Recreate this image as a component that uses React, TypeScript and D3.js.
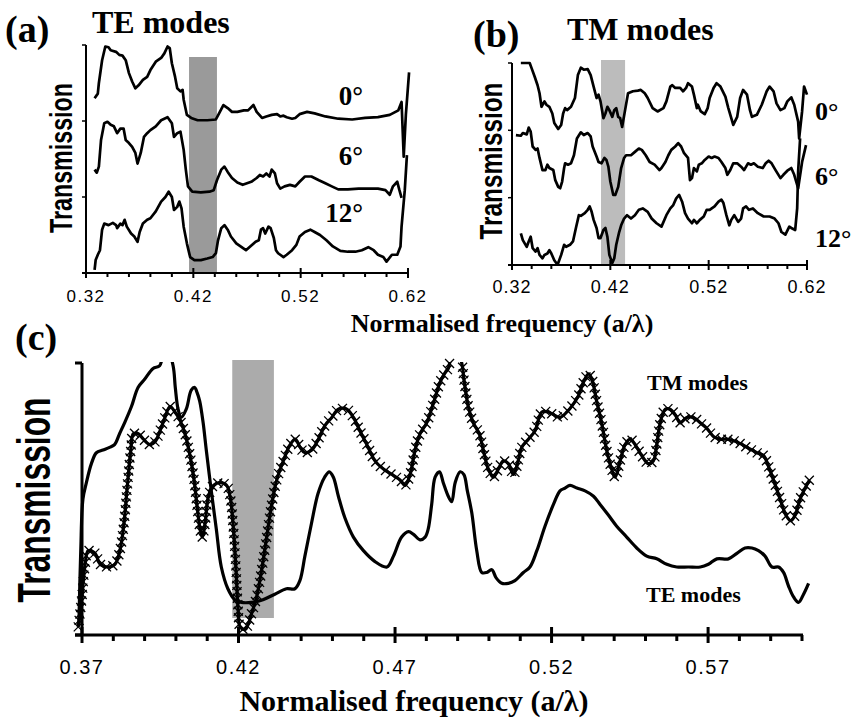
import React, { useEffect, useRef } from "react";
import * as d3 from "d3";

type Pt = [number, number];

// panel (a): TE modes, curves stacked 0° / 6° / 12° (frequency, transmission in offset units)
const teA0: Pt[] = [
  [0.328, 2.3], [0.331, 2.36], [0.332, 2.5], [0.335, 2.8], [0.338, 2.98], [0.341, 2.97], [0.343, 2.93],
  [0.348, 2.91], [0.351, 2.87], [0.354, 2.86], [0.357, 2.8], [0.36, 2.63], [0.363, 2.52], [0.366, 2.43],
  [0.369, 2.47], [0.373, 2.54], [0.377, 2.58], [0.38, 2.67], [0.385, 2.78], [0.39, 2.83], [0.393, 2.89],
  [0.396, 2.98], [0.398, 2.96], [0.4, 2.76], [0.403, 2.58], [0.405, 2.43], [0.408, 2.39], [0.41, 2.41],
  [0.411, 2.28], [0.414, 2.08], [0.418, 2.04], [0.424, 2.01], [0.433, 2.01], [0.441, 2.02], [0.444, 2.1],
  [0.448, 2.21], [0.452, 2.17], [0.456, 2.12], [0.461, 2.12], [0.467, 2.14], [0.471, 2.14], [0.476, 2.21],
  [0.479, 2.12], [0.484, 2.04], [0.488, 2.06], [0.493, 2.08], [0.498, 2.09], [0.501, 2.06], [0.504, 2.07],
  [0.507, 2.05], [0.512, 2.03], [0.515, 2.04], [0.519, 2.09], [0.526, 2.12], [0.533, 2.1], [0.543, 2.06],
  [0.555, 2.03], [0.568, 2.02], [0.58, 2.04], [0.592, 2.05], [0.603, 2.08], [0.611, 2.14], [0.614, 2.25],
  [0.616, 1.53], [0.618, 2.08], [0.621, 2.64],
];
const teA6: Pt[] = [
  [0.328, 1.36], [0.33, 1.32], [0.332, 1.4], [0.334, 1.75], [0.337, 1.97], [0.34, 1.99], [0.343, 1.95],
  [0.346, 1.93], [0.349, 1.84], [0.352, 1.9], [0.355, 1.9], [0.357, 1.75], [0.36, 1.71], [0.363, 1.66],
  [0.366, 1.58], [0.368, 1.44], [0.371, 1.58], [0.374, 1.79], [0.377, 1.84], [0.38, 1.88], [0.385, 1.93],
  [0.39, 2.01], [0.396, 2.05], [0.4, 1.97], [0.402, 1.79], [0.405, 1.84], [0.408, 1.86], [0.411, 1.62],
  [0.413, 1.36], [0.415, 1.14], [0.419, 1.07], [0.427, 1.06], [0.435, 1.07], [0.439, 1.09], [0.442, 1.22],
  [0.446, 1.36], [0.449, 1.4], [0.452, 1.33], [0.456, 1.25], [0.461, 1.19], [0.466, 1.16], [0.47, 1.18],
  [0.474, 1.2], [0.479, 1.25], [0.482, 1.29], [0.485, 1.27], [0.488, 1.31], [0.491, 1.27], [0.493, 1.36],
  [0.496, 1.31], [0.498, 1.18], [0.501, 1.11], [0.505, 1.14], [0.51, 1.16], [0.515, 1.14], [0.519, 1.2],
  [0.524, 1.27], [0.53, 1.27], [0.537, 1.22], [0.543, 1.18], [0.549, 1.14], [0.555, 1.1], [0.564, 1.1],
  [0.574, 1.11], [0.583, 1.11], [0.592, 1.11], [0.599, 1.09], [0.603, 1.03], [0.606, 1.14], [0.61, 1.2],
  [0.612, 1.09], [0.614, 0.99],
];
const teA12: Pt[] = [
  [0.328, 0.04], [0.329, 0.17], [0.331, 0.24], [0.333, 0.3], [0.335, 0.57], [0.337, 0.65], [0.341, 0.63],
  [0.345, 0.66], [0.348, 0.63], [0.349, 0.59], [0.352, 0.65], [0.354, 0.63], [0.356, 0.7], [0.358, 0.61],
  [0.362, 0.52], [0.365, 0.48], [0.368, 0.41], [0.37, 0.54], [0.373, 0.65], [0.377, 0.7], [0.38, 0.72],
  [0.385, 0.81], [0.39, 0.94], [0.394, 1.0], [0.397, 1.07], [0.4, 1.0], [0.402, 0.83], [0.405, 0.87],
  [0.407, 0.94], [0.409, 0.85], [0.411, 0.61], [0.414, 0.39], [0.417, 0.21], [0.421, 0.17], [0.427, 0.17],
  [0.433, 0.19], [0.438, 0.21], [0.441, 0.26], [0.443, 0.43], [0.446, 0.59], [0.449, 0.63], [0.452, 0.57],
  [0.455, 0.48], [0.46, 0.39], [0.464, 0.35], [0.469, 0.3], [0.473, 0.35], [0.478, 0.41], [0.481, 0.43],
  [0.483, 0.57], [0.485, 0.59], [0.487, 0.52], [0.49, 0.61], [0.492, 0.59], [0.495, 0.46], [0.497, 0.3],
  [0.499, 0.26], [0.504, 0.21], [0.507, 0.24], [0.512, 0.3], [0.516, 0.37], [0.519, 0.48], [0.524, 0.54],
  [0.529, 0.57], [0.533, 0.54], [0.538, 0.5], [0.544, 0.43], [0.55, 0.35], [0.557, 0.29], [0.564, 0.28],
  [0.571, 0.28], [0.577, 0.3], [0.583, 0.34], [0.588, 0.3], [0.592, 0.24], [0.597, 0.21], [0.6, 0.15],
  [0.605, 0.24], [0.61, 0.24], [0.613, 0.35], [0.614, 0.61], [0.617, 1.09], [0.619, 1.55],
];

// panel (b): TM modes
const tmB0: Pt[] = [
  [0.329, 3.0], [0.335, 3.0], [0.338, 3.0], [0.34, 2.92], [0.343, 2.8], [0.346, 2.67], [0.348, 2.55],
  [0.35, 2.35], [0.353, 2.43], [0.355, 2.38], [0.358, 2.35], [0.361, 2.25], [0.363, 2.11], [0.367, 2.02],
  [0.37, 2.08], [0.372, 2.25], [0.374, 2.33], [0.376, 2.3], [0.38, 2.35], [0.384, 2.48], [0.387, 2.82],
  [0.39, 2.93], [0.393, 2.9], [0.397, 2.91], [0.4, 2.82], [0.403, 2.65], [0.406, 2.48], [0.408, 2.53],
  [0.41, 2.43], [0.413, 2.18], [0.415, 2.25], [0.417, 2.35], [0.419, 2.3], [0.422, 2.2], [0.424, 2.3],
  [0.426, 2.33], [0.428, 2.2], [0.43, 2.18], [0.432, 2.05], [0.435, 2.3], [0.438, 2.55], [0.443, 2.58],
  [0.448, 2.59], [0.451, 2.6], [0.455, 2.55], [0.458, 2.48], [0.463, 2.33], [0.468, 2.28], [0.474, 2.33],
  [0.477, 2.43], [0.481, 2.65], [0.483, 2.67], [0.486, 2.63], [0.491, 2.63], [0.494, 2.58], [0.497, 2.63],
  [0.499, 2.7], [0.503, 2.65], [0.505, 2.53], [0.508, 2.33], [0.509, 2.38], [0.512, 2.28], [0.516, 2.24],
  [0.519, 2.33], [0.521, 2.48], [0.525, 2.63], [0.528, 2.7], [0.532, 2.65], [0.537, 2.5], [0.54, 2.33],
  [0.543, 2.18], [0.545, 2.08], [0.549, 2.2], [0.552, 2.48], [0.555, 2.6], [0.559, 2.53], [0.562, 2.3],
  [0.564, 2.2], [0.569, 2.23], [0.574, 2.38], [0.579, 2.58], [0.582, 2.65], [0.586, 2.58], [0.589, 2.4],
  [0.593, 2.3], [0.597, 2.33], [0.6, 2.43], [0.604, 2.49], [0.607, 2.38], [0.611, 2.13], [0.612, 1.88],
  [0.615, 2.28], [0.617, 2.65], [0.62, 2.53],
];
const tmB6: Pt[] = [
  [0.324, 1.93], [0.329, 1.92], [0.331, 1.96], [0.335, 1.94], [0.337, 2.04], [0.339, 1.98], [0.341, 1.76],
  [0.344, 1.71], [0.346, 1.73], [0.348, 1.59], [0.351, 1.41], [0.354, 1.41], [0.356, 1.49], [0.358, 1.44],
  [0.362, 1.41], [0.364, 1.26], [0.367, 1.16], [0.369, 1.14], [0.371, 1.24], [0.373, 1.44], [0.374, 1.51],
  [0.377, 1.49], [0.38, 1.51], [0.383, 1.63], [0.386, 1.88], [0.39, 1.97], [0.393, 1.93], [0.397, 1.96],
  [0.4, 1.91], [0.402, 1.76], [0.406, 1.61], [0.408, 1.53], [0.411, 1.51], [0.414, 1.59], [0.416, 1.56],
  [0.418, 1.46], [0.42, 1.24], [0.423, 1.04], [0.425, 1.04], [0.428, 1.16], [0.431, 1.44], [0.434, 1.59],
  [0.436, 1.63], [0.441, 1.63], [0.445, 1.68], [0.449, 1.73], [0.452, 1.71], [0.456, 1.63], [0.46, 1.53],
  [0.465, 1.49], [0.47, 1.41], [0.472, 1.44], [0.476, 1.53], [0.479, 1.63], [0.482, 1.71], [0.486, 1.76],
  [0.489, 1.81], [0.492, 1.76], [0.495, 1.66], [0.499, 1.59], [0.501, 1.26], [0.503, 1.29], [0.505, 1.44],
  [0.508, 1.39], [0.51, 1.49], [0.513, 1.51], [0.516, 1.56], [0.52, 1.61], [0.523, 1.59], [0.526, 1.61],
  [0.53, 1.59], [0.533, 1.53], [0.537, 1.44], [0.539, 1.34], [0.542, 1.41], [0.545, 1.51], [0.549, 1.51],
  [0.553, 1.46], [0.556, 1.41], [0.56, 1.51], [0.563, 1.49], [0.566, 1.51], [0.57, 1.46], [0.575, 1.44],
  [0.578, 1.51], [0.581, 1.55], [0.584, 1.51], [0.588, 1.41], [0.593, 1.29], [0.596, 1.34], [0.6, 1.4],
  [0.604, 1.44], [0.607, 1.34], [0.611, 1.14], [0.615, 1.53], [0.619, 1.78],
];
const tmB12: Pt[] = [
  [0.329, 0.47], [0.331, 0.37], [0.335, 0.27], [0.337, 0.35], [0.339, 0.42], [0.341, 0.25], [0.344, 0.2],
  [0.346, 0.25], [0.348, 0.15], [0.351, 0.1], [0.353, 0.15], [0.356, 0.17], [0.358, 0.22], [0.36, 0.17],
  [0.363, 0.07], [0.365, 0.03], [0.367, 0.03], [0.37, 0.15], [0.373, 0.3], [0.375, 0.27], [0.379, 0.3],
  [0.382, 0.35], [0.385, 0.55], [0.388, 0.74], [0.39, 0.73], [0.394, 0.77], [0.397, 0.82], [0.399, 0.87],
  [0.401, 0.79], [0.403, 0.67], [0.406, 0.55], [0.408, 0.4], [0.41, 0.4], [0.413, 0.52], [0.415, 0.55],
  [0.417, 0.42], [0.419, 0.15], [0.422, 0.03], [0.424, 0.1], [0.426, 0.3], [0.429, 0.49], [0.431, 0.59],
  [0.434, 0.69], [0.437, 0.74], [0.441, 0.69], [0.445, 0.74], [0.449, 0.82], [0.453, 0.84], [0.458, 0.79],
  [0.462, 0.69], [0.467, 0.62], [0.472, 0.57], [0.477, 0.74], [0.481, 0.84], [0.484, 0.89], [0.487, 0.99],
  [0.49, 1.04], [0.493, 0.94], [0.496, 0.77], [0.499, 0.69], [0.503, 0.62], [0.505, 0.67], [0.508, 0.62],
  [0.511, 0.67], [0.515, 0.72], [0.518, 0.82], [0.521, 0.82], [0.526, 0.87], [0.53, 0.94], [0.533, 0.97],
  [0.535, 0.92], [0.538, 0.74], [0.541, 0.59], [0.543, 0.67], [0.546, 0.74], [0.55, 0.64], [0.553, 0.69],
  [0.555, 0.84], [0.558, 0.87], [0.561, 0.82], [0.565, 0.84], [0.57, 0.77], [0.576, 0.72], [0.582, 0.72],
  [0.587, 0.69], [0.591, 0.62], [0.594, 0.49], [0.598, 0.45], [0.602, 0.57], [0.604, 0.55], [0.608, 0.52],
  [0.61, 0.84], [0.611, 1.39], [0.613, 1.88],
];

// panel (c): 0° incidence, TE (plain line) and TM (line with crosses)
const teC: Pt[] = [
  [0.369, 0.04], [0.3696, 0.31], [0.3703, 0.5], [0.3714, 0.56], [0.373, 0.63], [0.3746, 0.67], [0.3767, 0.68],
  [0.3788, 0.69], [0.3804, 0.7], [0.382, 0.74], [0.3836, 0.78], [0.3858, 0.84], [0.3879, 0.91], [0.39, 0.94],
  [0.3927, 0.98], [0.3948, 0.99], [0.3968, 1.07], [0.3991, 0.99], [0.3998, 0.91], [0.4007, 0.83], [0.4017, 0.8],
  [0.4033, 0.83], [0.4049, 0.9], [0.406, 0.91], [0.4068, 0.89], [0.4076, 0.86], [0.4087, 0.78], [0.4097, 0.68],
  [0.4113, 0.53], [0.4129, 0.39], [0.4145, 0.25], [0.4166, 0.17], [0.4188, 0.13], [0.4209, 0.12], [0.4241, 0.12],
  [0.4278, 0.13], [0.4316, 0.15], [0.4353, 0.17], [0.438, 0.17], [0.4396, 0.2], [0.4412, 0.29], [0.4433, 0.41],
  [0.4454, 0.52], [0.4475, 0.58], [0.449, 0.6], [0.4503, 0.58], [0.4519, 0.51], [0.454, 0.43], [0.4567, 0.36],
  [0.4599, 0.31], [0.4636, 0.27], [0.4674, 0.25], [0.4695, 0.29], [0.4721, 0.36], [0.4743, 0.38], [0.4759, 0.37],
  [0.478, 0.35], [0.4796, 0.36], [0.4806, 0.39], [0.4817, 0.48], [0.4828, 0.58], [0.4842, 0.6], [0.4854, 0.56],
  [0.487, 0.51], [0.4881, 0.49], [0.4892, 0.56], [0.4908, 0.6], [0.492, 0.59], [0.4931, 0.53], [0.4945, 0.45],
  [0.4961, 0.31], [0.4977, 0.23], [0.4993, 0.23], [0.5009, 0.24], [0.5023, 0.21], [0.5041, 0.19], [0.5062, 0.19],
  [0.5083, 0.2], [0.511, 0.23], [0.5131, 0.25], [0.5153, 0.31], [0.5179, 0.4], [0.5206, 0.48], [0.5227, 0.53],
  [0.5243, 0.54], [0.5259, 0.55], [0.5281, 0.54], [0.5307, 0.53], [0.5334, 0.51], [0.5355, 0.48], [0.5382, 0.44],
  [0.5408, 0.4], [0.544, 0.36], [0.5472, 0.32], [0.5504, 0.29], [0.5536, 0.28], [0.5568, 0.26], [0.56, 0.25],
  [0.5637, 0.25], [0.5675, 0.25], [0.5701, 0.26], [0.5728, 0.28], [0.5765, 0.28], [0.5792, 0.3], [0.5818, 0.32],
  [0.584, 0.32], [0.5861, 0.31], [0.5882, 0.29], [0.5904, 0.25], [0.5925, 0.25], [0.5941, 0.23], [0.5957, 0.18],
  [0.5973, 0.14], [0.5989, 0.12], [0.6005, 0.15], [0.6021, 0.19],
];
const tmC: Pt[] = [
  [0.3688, 0.03], [0.3699, 0.13], [0.371, 0.26], [0.372, 0.31], [0.3742, 0.3], [0.3758, 0.26], [0.3784, 0.25],
  [0.3805, 0.26], [0.3821, 0.31], [0.3834, 0.41], [0.3845, 0.55], [0.3856, 0.68], [0.3864, 0.74], [0.388, 0.74],
  [0.3896, 0.72], [0.3917, 0.7], [0.3933, 0.71], [0.3949, 0.75], [0.3965, 0.8], [0.3981, 0.84], [0.3997, 0.82],
  [0.4013, 0.79], [0.4029, 0.74], [0.4045, 0.66], [0.4058, 0.57], [0.4068, 0.47], [0.4077, 0.39], [0.4084, 0.36],
  [0.4093, 0.41], [0.4104, 0.51], [0.412, 0.55], [0.4141, 0.56], [0.4162, 0.55], [0.4173, 0.51], [0.4183, 0.4],
  [0.4192, 0.24], [0.4199, 0.09], [0.4205, 0.03], [0.4221, 0.02], [0.4231, 0.04], [0.4242, 0.08], [0.4258, 0.14],
  [0.4274, 0.24], [0.429, 0.36], [0.4306, 0.48], [0.4322, 0.57], [0.4343, 0.64], [0.4365, 0.7], [0.4381, 0.72],
  [0.4397, 0.69], [0.4412, 0.67], [0.4434, 0.68], [0.4455, 0.72], [0.4476, 0.77], [0.4498, 0.8], [0.4519, 0.83],
  [0.4546, 0.83], [0.4567, 0.8], [0.4588, 0.75], [0.461, 0.7], [0.4636, 0.64], [0.4663, 0.61], [0.469, 0.59],
  [0.4716, 0.57], [0.4732, 0.55], [0.4748, 0.59], [0.4764, 0.68], [0.478, 0.74], [0.4801, 0.78], [0.4822, 0.85],
  [0.4844, 0.93], [0.4863, 0.97], [0.487, 0.98], [0.4889, 1.07], [0.4913, 1.0], [0.492, 0.94], [0.4934, 0.84],
  [0.495, 0.78], [0.4969, 0.74], [0.4982, 0.68], [0.4998, 0.61], [0.5014, 0.58], [0.503, 0.61], [0.5046, 0.64],
  [0.5062, 0.63], [0.5078, 0.59], [0.5089, 0.62], [0.5105, 0.69], [0.5126, 0.72], [0.5147, 0.75], [0.5169, 0.82],
  [0.519, 0.82], [0.5206, 0.81], [0.5227, 0.8], [0.5249, 0.82], [0.527, 0.85], [0.5286, 0.88], [0.5302, 0.93],
  [0.5318, 0.96], [0.5329, 0.94], [0.5344, 0.86], [0.536, 0.78], [0.5376, 0.68], [0.5392, 0.61], [0.5403, 0.58],
  [0.5419, 0.64], [0.5435, 0.7], [0.5451, 0.72], [0.5467, 0.7], [0.5488, 0.66], [0.5509, 0.63], [0.5525, 0.64],
  [0.5536, 0.7], [0.5547, 0.78], [0.5563, 0.83], [0.5579, 0.83], [0.5595, 0.81], [0.5611, 0.78], [0.5632, 0.8],
  [0.5653, 0.8], [0.5675, 0.78], [0.5696, 0.76], [0.5717, 0.73], [0.5738, 0.72], [0.576, 0.72], [0.5792, 0.71],
  [0.5824, 0.69], [0.5856, 0.67], [0.5877, 0.66], [0.5893, 0.62], [0.5909, 0.57], [0.593, 0.5], [0.5949, 0.44],
  [0.5964, 0.42], [0.5978, 0.44], [0.5994, 0.5], [0.601, 0.54], [0.6024, 0.57],
];

// band gaps (shaded)
const gapA: [number, number] = [0.416, 0.442];
const gapB: [number, number] = [0.4105, 0.435];
const gapC: [number, number] = [0.418, 0.4313];

const majorAB = [0.32, 0.42, 0.52, 0.62];
const minorAB = [0.34, 0.36, 0.38, 0.4, 0.44, 0.46, 0.48, 0.5, 0.54, 0.56, 0.58, 0.6];
const majorC = [0.37, 0.42, 0.47, 0.52, 0.57];
const minorC = [0.38, 0.39, 0.4, 0.41, 0.43, 0.44, 0.45, 0.46, 0.48, 0.49, 0.5, 0.51, 0.53, 0.54, 0.55, 0.56, 0.58, 0.59, 0.6];
const stackTicks = [0, 1, 2, 3];
const angleLabels = ["0°", "6°", "12°"];

const SERIF = "'Liberation Serif', 'Times New Roman', serif";
const SANS = "'Liberation Sans', Arial, sans-serif";

const xA = d3.scaleLinear().domain([0.32, 0.62]).range([86, 408]);
const yA = d3.scaleLinear().domain([0, 3]).range([273, 45]);
const xB = d3.scaleLinear().domain([0.32, 0.62]).range([512, 807]);
const yB = d3.scaleLinear().domain([0, 3]).range([265, 63]);
const xC = d3.scaleLinear().domain([0.37, 0.6]).range([82, 802]);
const yC = d3.scaleLinear().domain([0, 1]).range([635, 363]);

const fmt = d3.format(".2f");

function lineFor(x: d3.ScaleLinear<number, number>, y: d3.ScaleLinear<number, number>, smooth = false) {
  const l = d3.line<Pt>().x((d) => x(d[0])).y((d) => y(d[1]));
  if (smooth) l.curve(d3.curveCatmullRom.alpha(0.5));
  return l;
}

function XAxis({ x, y0, major, minor, labelY, fontSize, spacing, sw, majorLen, minorLen, extendLeft }: any) {
  const [d0, d1] = x.domain();
  return (
    <g>
      <line x1={x(d0) - extendLeft} x2={x(d1) + 1} y1={y0} y2={y0} stroke="#000" strokeWidth={sw} />
      {minor.map((t: number) => (
        <line key={"m" + t} x1={x(t)} x2={x(t)} y1={y0} y2={y0 + minorLen} stroke="#000" strokeWidth={sw} />
      ))}
      {major.map((t: number) => (
        <g key={"M" + t}>
          <line x1={x(t)} x2={x(t)} y1={y0 - majorLen} y2={y0 + majorLen} stroke="#000" strokeWidth={sw} />
          <text x={x(t)} y={labelY} textAnchor="middle" fontFamily={SANS} fontSize={fontSize} letterSpacing={spacing}>
            {fmt(t)}
          </text>
        </g>
      ))}
    </g>
  );
}

export default function App() {
  const tmRef = useRef<SVGPathElement>(null);
  const crossRef = useRef<SVGGElement>(null);

  useEffect(() => {
    const path = tmRef.current;
    if (!path) return;
    const g = d3.select(crossRef.current);
    g.selectAll("*").remove();
    // crosses placed evenly along the TM trace
    const total = path.getTotalLength();
    const pts: { x: number; y: number }[] = [];
    for (let s = 0; s <= total; s += 6.5) {
      const p = path.getPointAtLength(s);
      if (p.y >= yC(1) - 2) pts.push({ x: p.x, y: p.y });
    }
    g.selectAll("path")
      .data(pts)
      .join("path")
      .attr("transform", (d) => `translate(${d.x},${d.y})`)
      .attr("d", "M-4.5,-4.5L4.5,4.5M-4.5,4.5L4.5,-4.5")
      .attr("stroke", "#000")
      .attr("stroke-width", 1.3)
      .attr("fill", "none");
  }, []);

  const lA = lineFor(xA, yA);
  const lB = lineFor(xB, yB);
  const lC = lineFor(xC, yC, true);

  return (
    <svg width={852} height={719} style={{ position: "absolute", left: 0, top: 0, background: "#fff" }}>
      <defs>
        <clipPath id="clipC">
          <rect x={60} y={yC(1) - 1} width={780} height={300} />
        </clipPath>
      </defs>

      {/* ---------- panel (a) ---------- */}
      <rect x={xA(gapA[0])} y={57} width={xA(gapA[1]) - xA(gapA[0])} height={yA(0) - 57} fill="#9a9a9a" />
      {[teA0, teA6, teA12].map((s, i) => (
        <path key={i} d={lA(s) || ""} fill="none" stroke="#000" strokeWidth={2.7} strokeLinejoin="round" />
      ))}
      <line x1={xA(0.32)} x2={xA(0.32)} y1={yA(3)} y2={yA(0)} stroke="#000" strokeWidth={2} />
      {stackTicks.map((t) => (
        <line key={t} x1={xA(0.32) - 4} x2={xA(0.32)} y1={yA(t)} y2={yA(t)} stroke="#000" strokeWidth={1.5} />
      ))}
      <XAxis x={xA} y0={yA(0)} major={majorAB} minor={minorAB} labelY={302} fontSize={17} spacing={1.5} sw={2} majorLen={5} minorLen={4} extendLeft={4} />
      {angleLabels.map((t, i) => (
        <text key={t} x={363} y={[105, 165, 222][i]} textAnchor="end" fontFamily={SERIF} fontWeight="bold" fontSize={27}>
          {t}
        </text>
      ))}
      <text transform="translate(72,158) rotate(-90)" textAnchor="middle" fontFamily={SANS} fontWeight="bold" fontSize={31} textLength={150} lengthAdjust="spacingAndGlyphs">
        Transmission
      </text>
      <text x={5} y={42} fontFamily={SERIF} fontWeight="bold" fontSize={38}>(a)</text>
      <text x={92} y={33} fontFamily={SERIF} fontWeight="bold" fontSize={32}>TE modes</text>

      {/* ---------- panel (b) ---------- */}
      <rect x={xB(gapB[0])} y={60} width={xB(gapB[1]) - xB(gapB[0])} height={yB(0) - 60} fill="#bcbcbc" />
      {[tmB0, tmB6, tmB12].map((s, i) => (
        <path key={i} d={lB(s) || ""} fill="none" stroke="#000" strokeWidth={2.7} strokeLinejoin="round" />
      ))}
      <line x1={xB(0.32)} x2={xB(0.32)} y1={yB(3)} y2={yB(0)} stroke="#000" strokeWidth={2} />
      {stackTicks.map((t) => (
        <line key={t} x1={xB(0.32) - 4} x2={xB(0.32)} y1={yB(t)} y2={yB(t)} stroke="#000" strokeWidth={1.5} />
      ))}
      <XAxis x={xB} y0={yB(0)} major={majorAB} minor={minorAB} labelY={293} fontSize={18} spacing={1} sw={2} majorLen={5} minorLen={4} extendLeft={4} />
      {angleLabels.map((t, i) => (
        <text key={t} x={815} y={[120, 185, 247][i]} fontFamily={SERIF} fontWeight="bold" fontSize={26}>
          {t}
        </text>
      ))}
      <text transform="translate(502,161) rotate(-90)" textAnchor="middle" fontFamily={SANS} fontWeight="bold" fontSize={31} textLength={157} lengthAdjust="spacingAndGlyphs">
        Transmission
      </text>
      <text x={473} y={47} fontFamily={SERIF} fontWeight="bold" fontSize={38}>(b)</text>
      <text x={567} y={40} fontFamily={SERIF} fontWeight="bold" fontSize={32}>TM modes</text>
      <text x={502} y={332} textAnchor="middle" fontFamily={SERIF} fontWeight="bold" fontSize={26}>
        Normalised frequency (a/λ)
      </text>

      {/* ---------- panel (c) ---------- */}
      <rect x={xC(gapC[0])} y={360} width={xC(gapC[1]) - xC(gapC[0])} height={618 - 360} fill="#ababab" />
      <g clipPath="url(#clipC)">
        <path d={lC(teC) || ""} fill="none" stroke="#000" strokeWidth={3.2} strokeLinejoin="round" />
        <path ref={tmRef} d={lC(tmC) || ""} fill="none" stroke="#000" strokeWidth={3.2} strokeLinejoin="round" />
      </g>
      <g ref={crossRef} />
      <line x1={xC(0.37)} x2={xC(0.37)} y1={yC(1)} y2={yC(0)} stroke="#000" strokeWidth={3} />
      {[0, 1].map((t) => (
        <line key={t} x1={xC(0.37) - 7} x2={xC(0.37)} y1={yC(t)} y2={yC(t)} stroke="#000" strokeWidth={3} />
      ))}
      <XAxis x={xC} y0={yC(0)} major={majorC} minor={minorC} labelY={674} fontSize={20} spacing={1.5} sw={3} majorLen={8} minorLen={6} extendLeft={7} />
      <text x={647} y={390} fontFamily={SERIF} fontWeight="bold" fontSize={22}>TM modes</text>
      <text x={646} y={602} fontFamily={SERIF} fontWeight="bold" fontSize={22}>TE modes</text>
      <text transform="translate(50,500) rotate(-90)" textAnchor="middle" fontFamily={SANS} fontWeight="bold" fontSize={46} textLength={205} lengthAdjust="spacingAndGlyphs">
        Transmission
      </text>
      <text x={15} y={350} fontFamily={SERIF} fontWeight="bold" fontSize={38}>(c)</text>
      <text x={414} y={711} textAnchor="middle" fontFamily={SERIF} fontWeight="bold" fontSize={30}>
        Normalised frequency (a/λ)
      </text>
    </svg>
  );
}
